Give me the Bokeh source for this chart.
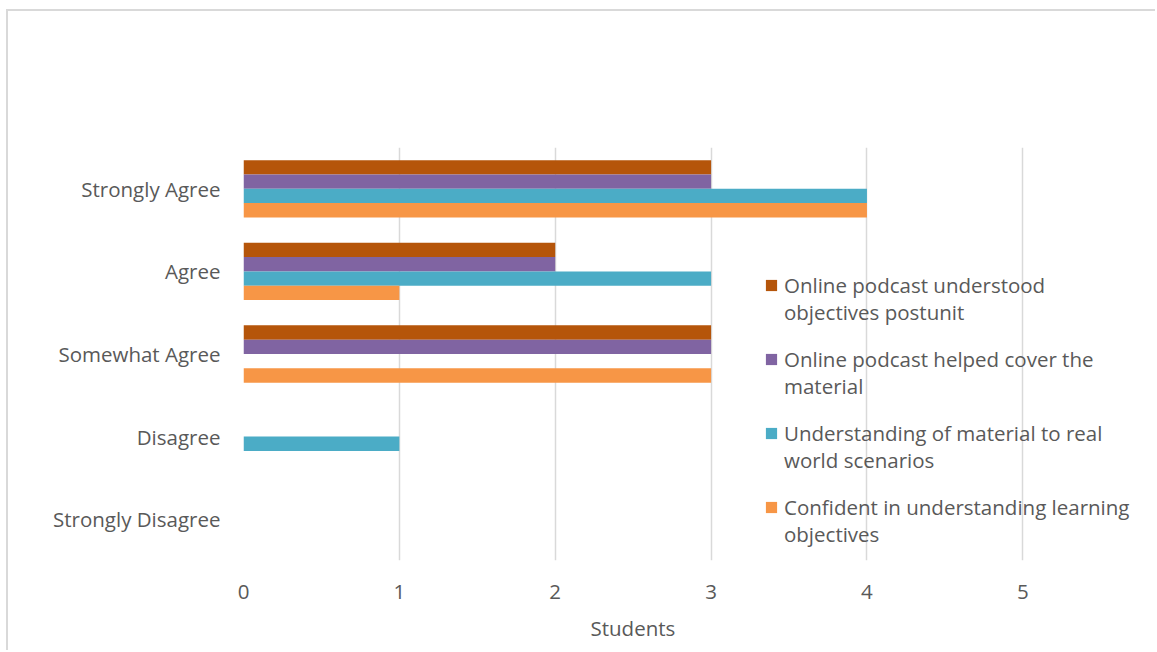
from bokeh.plotting import figure
from bokeh.models import ColumnDataSource, Legend, LegendItem, FactorRange, Range1d, FixedTicker
from bokeh.transform import dodge
from bokeh.embed import file_html
from bokeh.resources import INLINE

# categories listed bottom -> top for Bokeh's categorical y axis
categories = ["Strongly Disagree", "Disagree", "Somewhat Agree", "Agree", "Strongly Agree"]
series_line1 = [
    "Online podcast understood",
    "Online podcast helped cover the",
    "Understanding of material to real",
    "Confident in understanding learning",
]
series_line2 = [
    "objectives postunit",
    "material",
    "world scenarios",
    "objectives",
]
podcast_understood = [0, 0, 3, 2, 3]
podcast_helped = [0, 0, 3, 2, 3]
real_world = [0, 1, 0, 3, 4]
confident = [0, 0, 3, 1, 4]
x_ticks = [0, 1, 2, 3, 4, 5]
x_title = "Students"

colors = ["#B5550A", "#8064A2", "#4BACC6", "#F79646"]

source = ColumnDataSource(data=dict(
    cat=categories,
    s0=podcast_understood,
    s1=podcast_helped,
    s2=real_world,
    s3=confident,
))

FONT = "Open Sans"
TXT = "#595959"
FS = "20.5px"

p = figure(
    width=1149, height=641,
    y_range=FactorRange(factors=categories),
    x_range=Range1d(0, 5.80),
    output_backend="svg", toolbar_location=None,
    min_border_left=235, min_border_right=10, min_border_top=136, min_border_bottom=92,
    title=x_title, title_location="below",
)
p.margin = (9, 0, 0, 6)
p.styles = {"border-left": "2px solid #D9D9D9", "border-top": "2px solid #D9D9D9"}
p.outline_line_color = None
p.background_fill_color = "white"
p.border_fill_color = "white"

p.title.align = "left"
p.title.offset = 347
p.title.text_font = FONT
p.title.text_font_style = "normal"
p.title.text_color = TXT
p.title.text_font_size = FS
p.title.standoff = 20

bar_h = 0.1735
offsets = [0.26, 0.0867, -0.0867, -0.26]
renderers = []
for i in range(4):
    r = p.hbar(y=dodge("cat", offsets[i], range=p.y_range), left=0, right="s%d" % i,
               height=bar_h, source=source, fill_color=colors[i], line_color=None)
    renderers.append(r)

# invisible renderers carrying the second line of each legend entry
blank = []
for i in range(4):
    b = p.hbar(y=[], left=[], right=[], height=bar_h, fill_alpha=0, line_alpha=0)
    blank.append(b)

p.xgrid.grid_line_color = "#D9D9D9"
p.xgrid.grid_line_width = 1.5
p.ygrid.grid_line_color = None
p.xaxis.ticker = FixedTicker(ticks=x_ticks)

for ax in (p.xaxis[0], p.yaxis[0]):
    ax.axis_line_color = None
    ax.major_tick_line_color = None
    ax.minor_tick_line_color = None
    ax.major_label_text_font = FONT
    ax.major_label_text_color = TXT
    ax.major_label_text_font_size = FS

p.yaxis.major_label_standoff = 17
p.xaxis.major_label_standoff = 18

common = dict(
    orientation="vertical",
    background_fill_alpha=0,
    border_line_color=None,
    padding=0, margin=0,
    spacing=46,
    label_height=27,
    glyph_width=14, glyph_height=14,
    label_standoff=6,
    label_text_font=FONT,
    label_text_color=TXT,
    label_text_font_size=FS,
)
legend1 = Legend(
    items=[LegendItem(label=series_line1[i], renderers=[renderers[i]]) for i in range(4)],
    location=(521, 39),
    **common,
)
legend2 = Legend(
    items=[LegendItem(label=series_line2[i], renderers=[blank[i]]) for i in range(4)],
    location=(521, 12),
    **common,
)
p.add_layout(legend1)
p.add_layout(legend2)

open("out.html", "w").write(file_html(p, INLINE))
